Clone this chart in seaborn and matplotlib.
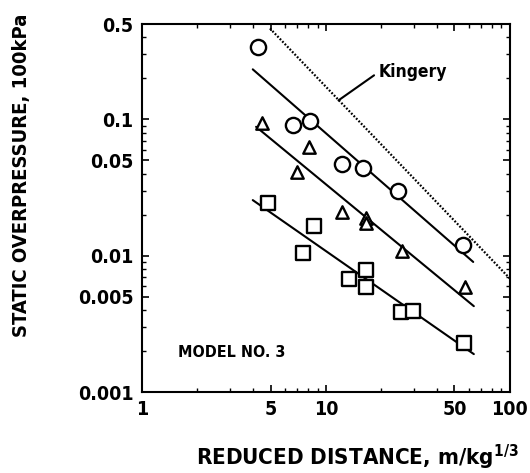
import matplotlib
matplotlib.use("Agg")
import matplotlib.pyplot as plt
import seaborn as sns
import pandas as pd
import numpy as np
from matplotlib.ticker import FixedLocator, NullFormatter, LogLocator

sns.set_theme(style="ticks")
plt.rcParams['font.family'] = ['DejaVu Sans']
plt.rcParams['font.stretch'] = 'condensed'
plt.rcParams['font.weight'] = 'bold'
plt.rcParams['text.color'] = 'black'
plt.rcParams['xtick.color'] = 'black'
plt.rcParams['ytick.color'] = 'black'
plt.rcParams['axes.labelcolor'] = 'black'

# Data
circle_x = [4.27, 6.59, 8.19, 12.3, 15.9, 24.7, 55.7]
circle_y = [0.339, 0.0908, 0.0977, 0.0475, 0.0437, 0.0299, 0.0120]
tri_x = [4.47, 8.11, 6.93, 12.3, 16.6, 16.6, 25.8, 56.9]
tri_y = [0.0934, 0.0629, 0.0412, 0.0208, 0.0188, 0.0174, 0.0108, 0.00591]
sq_x = [4.86, 8.64, 7.47, 13.3, 16.6, 16.5, 25.5, 29.6, 56.5]
sq_y = [0.0244, 0.0166, 0.0105, 0.00681, 0.00784, 0.00591, 0.00384, 0.00392, 0.00230]

fit_circle_x = [4.0, 63.2]
fit_circle_y = [0.233, 0.00901]
fit_tri_x = [4.17, 63.7]
fit_tri_y = [0.0883, 0.00427]
fit_sq_x = [4.0, 63.7]
fit_sq_y = [0.0256, 0.0019]
kingery_x = [4.96, 100.0]
kingery_y = [0.465, 0.00681]

x_ticks = [1, 5, 10, 50, 100]
x_tick_labels = ["1", "5", "10", "50", "100"]
y_ticks = [0.001, 0.005, 0.01, 0.05, 0.1, 0.5]
y_tick_labels = ["0.001", "0.005", "0.01", "0.05", "0.1", "0.5"]

fig = plt.figure(figsize=(5.3, 4.73), dpi=100)
ax = fig.add_axes([0.268, 0.171, 0.694, 0.778])

pts = pd.DataFrame({
    "x": circle_x + tri_x + sq_x,
    "y": circle_y + tri_y + sq_y,
    "kind": ["circle"] * len(circle_x) + ["tri"] * len(tri_x) + ["sq"] * len(sq_x),
})

for kind, marker, size in [("circle", "o", 120), ("tri", "^", 80), ("sq", "s", 95)]:
    d = pts[pts["kind"] == kind]
    sns.scatterplot(data=d, x="x", y="y", marker=marker, s=size, facecolor="white",
                    edgecolor="black", linewidth=1.7, ax=ax, zorder=3, legend=False)

for fx, fy in [(fit_circle_x, fit_circle_y), (fit_tri_x, fit_tri_y), (fit_sq_x, fit_sq_y)]:
    sns.lineplot(x=fx, y=fy, color="black", linewidth=1.5, ax=ax, zorder=2)
sns.lineplot(x=kingery_x, y=kingery_y, color="black", linewidth=1.6, linestyle=(0, (0.8, 0.8)), ax=ax, zorder=2)

ax.set_xscale("log")
ax.set_yscale("log")
ax.set_xlim(1, 100)
ax.set_ylim(0.001, 0.5)

ax.xaxis.set_major_locator(FixedLocator(x_ticks))
ax.set_xticklabels(x_tick_labels)
ax.yaxis.set_major_locator(FixedLocator(y_ticks))
ax.set_yticklabels(y_tick_labels)
ax.xaxis.set_minor_locator(LogLocator(base=10, subs=np.arange(2, 10)))
ax.yaxis.set_minor_locator(LogLocator(base=10, subs=np.arange(2, 10)))
ax.xaxis.set_minor_formatter(NullFormatter())
ax.yaxis.set_minor_formatter(NullFormatter())
ax.tick_params(which="both", direction="in", top=True, right=True, color="black")
ax.tick_params(which="major", length=5, width=1.2, labelsize=14, pad=6)
ax.tick_params(which="minor", length=3, width=1.0)
for lab in ax.get_xticklabels() + ax.get_yticklabels():
    lab.set_fontweight("bold")
    lab.set_fontstretch("condensed")
for sp in ax.spines.values():
    sp.set_linewidth(1.5)
    sp.set_color("black")
ax.set_xlabel("")
ax.set_ylabel("")

ax.annotate("Kingery", xy=(11.7, 0.138), xytext=(19.3, 0.222),
            fontsize=12.5, fontweight="bold", va="center", ha="left",
            arrowprops=dict(arrowstyle="-", color="black", lw=1.5, shrinkA=1, shrinkB=0,
                            relpos=(0, 0.5)))
ax.text(1.57, 0.00196, "MODEL NO. 3", fontsize=11.5, fontweight="bold", va="center", ha="left")

fig.text(357 / 530, 1 - 457 / 473, "REDUCED DISTANCE, m/kg$^{\\mathbf{1/3}}$", ha="center", va="center",
         fontsize=16, fontweight="bold")
fig.text(22 / 530, 1 - 175 / 473, "STATIC OVERPRESSURE, 100kPa", ha="center", va="center",
         rotation=90, fontsize=14.5, fontweight="bold")

fig.savefig("out.png", dpi=100)
